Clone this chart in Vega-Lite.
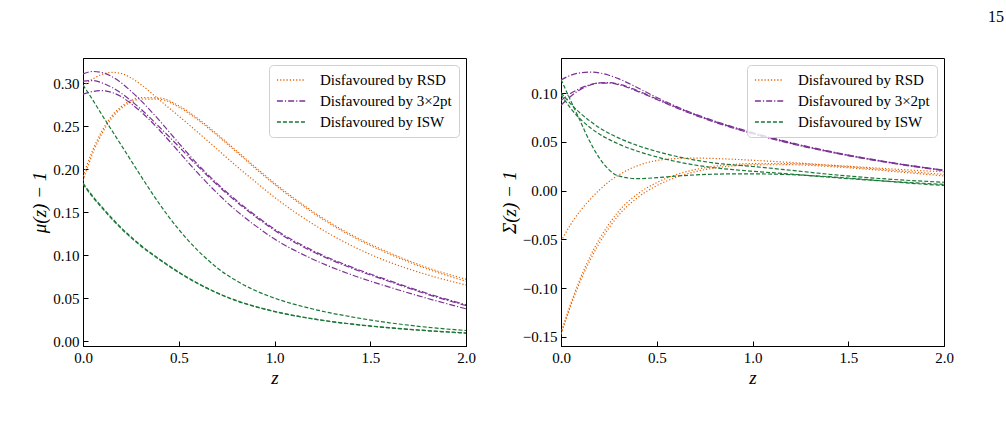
{
  "$schema": "https://vega.github.io/schema/vega-lite/v6.json",
  "background": "white",
  "padding": {"left": 30, "top": 8, "right": 5, "bottom": 5},
  "title": {"text": "15", "anchor": "end", "fontSize": 16, "font": "Liberation Serif", "fontWeight": "normal", "color": "black", "offset": 33, "dx": 50},
  "config": {
    "view": {"stroke": "black", "strokeWidth": 1},
    "font": "Liberation Serif",
    "axis": {
      "grid": false,
      "domainColor": "black", "domainWidth": 1,
      "tickColor": "black", "tickWidth": 1, "tickSize": -5,
      "labelPadding": 9, "labelFlush": false,
      "labelFont": "Liberation Serif", "labelFontSize": 15, "labelColor": "black",
      "titleFont": "Liberation Serif", "titleFontSize": 19, "titleFontWeight": "normal", "titleColor": "black",
      "titlePadding": 3
    },
    "legend": {
      "orient": "top-right", "offset": 7,
      "fillColor": "rgba(255,255,255,0.8)", "strokeColor": "#d0d0d0", "cornerRadius": 4,
      "padding": 7, "symbolType": "M-1,0H3", "symbolSize": 200, "symbolStrokeWidth": 1.3,
      "labelFont": "Liberation Serif", "labelFontSize": 15, "labelColor": "black",
      "labelOffset": 28, "rowPadding": 5
    }
  },
  "datasets": {
    "mu": [
      {"s":"Disfavoured by RSD","c":"a1","z":0,"v":0.192},{"s":"Disfavoured by RSD","c":"a1","z":0.05,"v":0.222},{"s":"Disfavoured by RSD","c":"a1","z":0.1,"v":0.245},{"s":"Disfavoured by RSD","c":"a1","z":0.15,"v":0.262},{"s":"Disfavoured by RSD","c":"a1","z":0.2,"v":0.273},{"s":"Disfavoured by RSD","c":"a1","z":0.25,"v":0.28},{"s":"Disfavoured by RSD","c":"a1","z":0.3,"v":0.2835},{"s":"Disfavoured by RSD","c":"a1","z":0.4,"v":0.283},{"s":"Disfavoured by RSD","c":"a1","z":0.5,"v":0.274},{"s":"Disfavoured by RSD","c":"a1","z":0.6,"v":0.259},{"s":"Disfavoured by RSD","c":"a1","z":0.7,"v":0.241},{"s":"Disfavoured by RSD","c":"a1","z":0.8,"v":0.222},{"s":"Disfavoured by RSD","c":"a1","z":0.9,"v":0.2025},{"s":"Disfavoured by RSD","c":"a1","z":1.0,"v":0.184},{"s":"Disfavoured by RSD","c":"a1","z":1.2,"v":0.151},{"s":"Disfavoured by RSD","c":"a1","z":1.4,"v":0.124},{"s":"Disfavoured by RSD","c":"a1","z":1.6,"v":0.103},{"s":"Disfavoured by RSD","c":"a1","z":1.8,"v":0.0855},{"s":"Disfavoured by RSD","c":"a1","z":2.0,"v":0.0722},
      {"s":"Disfavoured by RSD","c":"a2","z":0,"v":0.187},{"s":"Disfavoured by RSD","c":"a2","z":0.05,"v":0.218},{"s":"Disfavoured by RSD","c":"a2","z":0.1,"v":0.242},{"s":"Disfavoured by RSD","c":"a2","z":0.15,"v":0.2595},{"s":"Disfavoured by RSD","c":"a2","z":0.2,"v":0.271},{"s":"Disfavoured by RSD","c":"a2","z":0.25,"v":0.278},{"s":"Disfavoured by RSD","c":"a2","z":0.3,"v":0.2818},{"s":"Disfavoured by RSD","c":"a2","z":0.4,"v":0.2815},{"s":"Disfavoured by RSD","c":"a2","z":0.5,"v":0.2725},{"s":"Disfavoured by RSD","c":"a2","z":0.6,"v":0.2575},{"s":"Disfavoured by RSD","c":"a2","z":0.7,"v":0.2395},{"s":"Disfavoured by RSD","c":"a2","z":0.8,"v":0.2205},{"s":"Disfavoured by RSD","c":"a2","z":0.9,"v":0.201},{"s":"Disfavoured by RSD","c":"a2","z":1.0,"v":0.1825},{"s":"Disfavoured by RSD","c":"a2","z":1.2,"v":0.1495},{"s":"Disfavoured by RSD","c":"a2","z":1.4,"v":0.1225},{"s":"Disfavoured by RSD","c":"a2","z":1.6,"v":0.1015},{"s":"Disfavoured by RSD","c":"a2","z":1.8,"v":0.084},{"s":"Disfavoured by RSD","c":"a2","z":2.0,"v":0.0698},
      {"s":"Disfavoured by RSD","c":"b","z":0,"v":0.297},{"s":"Disfavoured by RSD","c":"b","z":0.05,"v":0.305},{"s":"Disfavoured by RSD","c":"b","z":0.1,"v":0.3105},{"s":"Disfavoured by RSD","c":"b","z":0.15,"v":0.3128},{"s":"Disfavoured by RSD","c":"b","z":0.2,"v":0.3115},{"s":"Disfavoured by RSD","c":"b","z":0.25,"v":0.3065},{"s":"Disfavoured by RSD","c":"b","z":0.3,"v":0.299},{"s":"Disfavoured by RSD","c":"b","z":0.4,"v":0.2805},{"s":"Disfavoured by RSD","c":"b","z":0.5,"v":0.262},{"s":"Disfavoured by RSD","c":"b","z":0.6,"v":0.243},{"s":"Disfavoured by RSD","c":"b","z":0.7,"v":0.2235},{"s":"Disfavoured by RSD","c":"b","z":0.8,"v":0.204},{"s":"Disfavoured by RSD","c":"b","z":0.9,"v":0.1855},{"s":"Disfavoured by RSD","c":"b","z":1.0,"v":0.1675},{"s":"Disfavoured by RSD","c":"b","z":1.2,"v":0.1365},{"s":"Disfavoured by RSD","c":"b","z":1.4,"v":0.1115},{"s":"Disfavoured by RSD","c":"b","z":1.6,"v":0.092},{"s":"Disfavoured by RSD","c":"b","z":1.8,"v":0.0772},{"s":"Disfavoured by RSD","c":"b","z":2.0,"v":0.0655},
      {"s":"Disfavoured by 3×2pt","c":"p1","z":0,"v":0.311},{"s":"Disfavoured by 3×2pt","c":"p1","z":0.05,"v":0.3138},{"s":"Disfavoured by 3×2pt","c":"p1","z":0.1,"v":0.3125},{"s":"Disfavoured by 3×2pt","c":"p1","z":0.15,"v":0.308},{"s":"Disfavoured by 3×2pt","c":"p1","z":0.2,"v":0.3005},{"s":"Disfavoured by 3×2pt","c":"p1","z":0.25,"v":0.291},{"s":"Disfavoured by 3×2pt","c":"p1","z":0.3,"v":0.2805},{"s":"Disfavoured by 3×2pt","c":"p1","z":0.4,"v":0.2565},{"s":"Disfavoured by 3×2pt","c":"p1","z":0.5,"v":0.2305},{"s":"Disfavoured by 3×2pt","c":"p1","z":0.6,"v":0.2055},{"s":"Disfavoured by 3×2pt","c":"p1","z":0.7,"v":0.1835},{"s":"Disfavoured by 3×2pt","c":"p1","z":0.8,"v":0.164},{"s":"Disfavoured by 3×2pt","c":"p1","z":0.9,"v":0.1465},{"s":"Disfavoured by 3×2pt","c":"p1","z":1.0,"v":0.1305},{"s":"Disfavoured by 3×2pt","c":"p1","z":1.2,"v":0.1055},{"s":"Disfavoured by 3×2pt","c":"p1","z":1.4,"v":0.0865},{"s":"Disfavoured by 3×2pt","c":"p1","z":1.6,"v":0.0705},{"s":"Disfavoured by 3×2pt","c":"p1","z":1.8,"v":0.0555},{"s":"Disfavoured by 3×2pt","c":"p1","z":2.0,"v":0.0425},
      {"s":"Disfavoured by 3×2pt","c":"p2","z":0,"v":0.3025},{"s":"Disfavoured by 3×2pt","c":"p2","z":0.05,"v":0.3032},{"s":"Disfavoured by 3×2pt","c":"p2","z":0.1,"v":0.3005},{"s":"Disfavoured by 3×2pt","c":"p2","z":0.15,"v":0.2955},{"s":"Disfavoured by 3×2pt","c":"p2","z":0.2,"v":0.2885},{"s":"Disfavoured by 3×2pt","c":"p2","z":0.25,"v":0.28},{"s":"Disfavoured by 3×2pt","c":"p2","z":0.3,"v":0.2705},{"s":"Disfavoured by 3×2pt","c":"p2","z":0.4,"v":0.249},{"s":"Disfavoured by 3×2pt","c":"p2","z":0.5,"v":0.2265},{"s":"Disfavoured by 3×2pt","c":"p2","z":0.6,"v":0.2035},{"s":"Disfavoured by 3×2pt","c":"p2","z":0.7,"v":0.182},{"s":"Disfavoured by 3×2pt","c":"p2","z":0.8,"v":0.1625},{"s":"Disfavoured by 3×2pt","c":"p2","z":0.9,"v":0.145},{"s":"Disfavoured by 3×2pt","c":"p2","z":1.0,"v":0.129},{"s":"Disfavoured by 3×2pt","c":"p2","z":1.2,"v":0.1042},{"s":"Disfavoured by 3×2pt","c":"p2","z":1.4,"v":0.0853},{"s":"Disfavoured by 3×2pt","c":"p2","z":1.6,"v":0.0695},{"s":"Disfavoured by 3×2pt","c":"p2","z":1.8,"v":0.0545},{"s":"Disfavoured by 3×2pt","c":"p2","z":2.0,"v":0.0415},
      {"s":"Disfavoured by 3×2pt","c":"p3","z":0,"v":0.2875},{"s":"Disfavoured by 3×2pt","c":"p3","z":0.05,"v":0.2905},{"s":"Disfavoured by 3×2pt","c":"p3","z":0.1,"v":0.2915},{"s":"Disfavoured by 3×2pt","c":"p3","z":0.15,"v":0.2895},{"s":"Disfavoured by 3×2pt","c":"p3","z":0.2,"v":0.2845},{"s":"Disfavoured by 3×2pt","c":"p3","z":0.25,"v":0.2765},{"s":"Disfavoured by 3×2pt","c":"p3","z":0.3,"v":0.2675},{"s":"Disfavoured by 3×2pt","c":"p3","z":0.4,"v":0.2455},{"s":"Disfavoured by 3×2pt","c":"p3","z":0.5,"v":0.2205},{"s":"Disfavoured by 3×2pt","c":"p3","z":0.6,"v":0.1955},{"s":"Disfavoured by 3×2pt","c":"p3","z":0.7,"v":0.1725},{"s":"Disfavoured by 3×2pt","c":"p3","z":0.8,"v":0.152},{"s":"Disfavoured by 3×2pt","c":"p3","z":0.9,"v":0.1345},{"s":"Disfavoured by 3×2pt","c":"p3","z":1.0,"v":0.119},{"s":"Disfavoured by 3×2pt","c":"p3","z":1.2,"v":0.0955},{"s":"Disfavoured by 3×2pt","c":"p3","z":1.4,"v":0.0775},{"s":"Disfavoured by 3×2pt","c":"p3","z":1.6,"v":0.063},{"s":"Disfavoured by 3×2pt","c":"p3","z":1.8,"v":0.0498},{"s":"Disfavoured by 3×2pt","c":"p3","z":2.0,"v":0.0378},
      {"s":"Disfavoured by ISW","c":"g1","z":0,"v":0.298},{"s":"Disfavoured by ISW","c":"g1","z":0.05,"v":0.281},{"s":"Disfavoured by ISW","c":"g1","z":0.1,"v":0.263},{"s":"Disfavoured by ISW","c":"g1","z":0.15,"v":0.2455},{"s":"Disfavoured by ISW","c":"g1","z":0.2,"v":0.228},{"s":"Disfavoured by ISW","c":"g1","z":0.25,"v":0.2105},{"s":"Disfavoured by ISW","c":"g1","z":0.3,"v":0.193},{"s":"Disfavoured by ISW","c":"g1","z":0.4,"v":0.1595},{"s":"Disfavoured by ISW","c":"g1","z":0.5,"v":0.13},{"s":"Disfavoured by ISW","c":"g1","z":0.6,"v":0.1055},{"s":"Disfavoured by ISW","c":"g1","z":0.7,"v":0.0855},{"s":"Disfavoured by ISW","c":"g1","z":0.8,"v":0.0705},{"s":"Disfavoured by ISW","c":"g1","z":0.9,"v":0.059},{"s":"Disfavoured by ISW","c":"g1","z":1.0,"v":0.0502},{"s":"Disfavoured by ISW","c":"g1","z":1.2,"v":0.0375},{"s":"Disfavoured by ISW","c":"g1","z":1.4,"v":0.0285},{"s":"Disfavoured by ISW","c":"g1","z":1.6,"v":0.0215},{"s":"Disfavoured by ISW","c":"g1","z":1.8,"v":0.0163},{"s":"Disfavoured by ISW","c":"g1","z":2.0,"v":0.0125},
      {"s":"Disfavoured by ISW","c":"g2","z":0,"v":0.184},{"s":"Disfavoured by ISW","c":"g2","z":0.05,"v":0.169},{"s":"Disfavoured by ISW","c":"g2","z":0.1,"v":0.156},{"s":"Disfavoured by ISW","c":"g2","z":0.15,"v":0.1435},{"s":"Disfavoured by ISW","c":"g2","z":0.2,"v":0.132},{"s":"Disfavoured by ISW","c":"g2","z":0.25,"v":0.1215},{"s":"Disfavoured by ISW","c":"g2","z":0.3,"v":0.112},{"s":"Disfavoured by ISW","c":"g2","z":0.4,"v":0.0955},{"s":"Disfavoured by ISW","c":"g2","z":0.5,"v":0.0805},{"s":"Disfavoured by ISW","c":"g2","z":0.6,"v":0.0675},{"s":"Disfavoured by ISW","c":"g2","z":0.7,"v":0.0565},{"s":"Disfavoured by ISW","c":"g2","z":0.8,"v":0.0475},{"s":"Disfavoured by ISW","c":"g2","z":0.9,"v":0.0405},{"s":"Disfavoured by ISW","c":"g2","z":1.0,"v":0.0348},{"s":"Disfavoured by ISW","c":"g2","z":1.2,"v":0.0262},{"s":"Disfavoured by ISW","c":"g2","z":1.4,"v":0.0202},{"s":"Disfavoured by ISW","c":"g2","z":1.6,"v":0.0158},{"s":"Disfavoured by ISW","c":"g2","z":1.8,"v":0.0124},{"s":"Disfavoured by ISW","c":"g2","z":2.0,"v":0.0097},
      {"s":"Disfavoured by ISW","c":"g3","z":0,"v":0.1828},{"s":"Disfavoured by ISW","c":"g3","z":0.05,"v":0.1678},{"s":"Disfavoured by ISW","c":"g3","z":0.1,"v":0.1548},{"s":"Disfavoured by ISW","c":"g3","z":0.15,"v":0.1424},{"s":"Disfavoured by ISW","c":"g3","z":0.2,"v":0.131},{"s":"Disfavoured by ISW","c":"g3","z":0.25,"v":0.1206},{"s":"Disfavoured by ISW","c":"g3","z":0.3,"v":0.1112},{"s":"Disfavoured by ISW","c":"g3","z":0.4,"v":0.0948},{"s":"Disfavoured by ISW","c":"g3","z":0.5,"v":0.0799},{"s":"Disfavoured by ISW","c":"g3","z":0.6,"v":0.067},{"s":"Disfavoured by ISW","c":"g3","z":0.7,"v":0.0561},{"s":"Disfavoured by ISW","c":"g3","z":0.8,"v":0.0471},{"s":"Disfavoured by ISW","c":"g3","z":0.9,"v":0.0402},{"s":"Disfavoured by ISW","c":"g3","z":1.0,"v":0.0345},{"s":"Disfavoured by ISW","c":"g3","z":1.2,"v":0.026},{"s":"Disfavoured by ISW","c":"g3","z":1.4,"v":0.02},{"s":"Disfavoured by ISW","c":"g3","z":1.6,"v":0.0156},{"s":"Disfavoured by ISW","c":"g3","z":1.8,"v":0.0122},{"s":"Disfavoured by ISW","c":"g3","z":2.0,"v":0.0095}
    ],
    "sigma": [
      {"s":"Disfavoured by RSD","c":"r1","z":0,"v":-0.052},{"s":"Disfavoured by RSD","c":"r1","z":0.05,"v":-0.035},{"s":"Disfavoured by RSD","c":"r1","z":0.1,"v":-0.021},{"s":"Disfavoured by RSD","c":"r1","z":0.15,"v":-0.0095},{"s":"Disfavoured by RSD","c":"r1","z":0.2,"v":0.0005},{"s":"Disfavoured by RSD","c":"r1","z":0.25,"v":0.009},{"s":"Disfavoured by RSD","c":"r1","z":0.3,"v":0.0158},{"s":"Disfavoured by RSD","c":"r1","z":0.4,"v":0.0255},{"s":"Disfavoured by RSD","c":"r1","z":0.5,"v":0.0308},{"s":"Disfavoured by RSD","c":"r1","z":0.6,"v":0.0328},{"s":"Disfavoured by RSD","c":"r1","z":0.7,"v":0.0333},{"s":"Disfavoured by RSD","c":"r1","z":0.8,"v":0.0329},{"s":"Disfavoured by RSD","c":"r1","z":0.9,"v":0.0321},{"s":"Disfavoured by RSD","c":"r1","z":1.0,"v":0.0311},{"s":"Disfavoured by RSD","c":"r1","z":1.2,"v":0.0288},{"s":"Disfavoured by RSD","c":"r1","z":1.4,"v":0.0262},{"s":"Disfavoured by RSD","c":"r1","z":1.6,"v":0.0237},{"s":"Disfavoured by RSD","c":"r1","z":1.8,"v":0.0213},{"s":"Disfavoured by RSD","c":"r1","z":2.0,"v":0.0192},
      {"s":"Disfavoured by RSD","c":"r2","z":0,"v":-0.1465},{"s":"Disfavoured by RSD","c":"r2","z":0.05,"v":-0.1165},{"s":"Disfavoured by RSD","c":"r2","z":0.1,"v":-0.0905},{"s":"Disfavoured by RSD","c":"r2","z":0.15,"v":-0.0685},{"s":"Disfavoured by RSD","c":"r2","z":0.2,"v":-0.05},{"s":"Disfavoured by RSD","c":"r2","z":0.25,"v":-0.0345},{"s":"Disfavoured by RSD","c":"r2","z":0.3,"v":-0.0215},{"s":"Disfavoured by RSD","c":"r2","z":0.4,"v":-0.0035},{"s":"Disfavoured by RSD","c":"r2","z":0.5,"v":0.0082},{"s":"Disfavoured by RSD","c":"r2","z":0.6,"v":0.0162},{"s":"Disfavoured by RSD","c":"r2","z":0.7,"v":0.0215},{"s":"Disfavoured by RSD","c":"r2","z":0.8,"v":0.0249},{"s":"Disfavoured by RSD","c":"r2","z":0.9,"v":0.0268},{"s":"Disfavoured by RSD","c":"r2","z":1.0,"v":0.0277},{"s":"Disfavoured by RSD","c":"r2","z":1.2,"v":0.0276},{"s":"Disfavoured by RSD","c":"r2","z":1.4,"v":0.0257},{"s":"Disfavoured by RSD","c":"r2","z":1.6,"v":0.0229},{"s":"Disfavoured by RSD","c":"r2","z":1.8,"v":0.0197},{"s":"Disfavoured by RSD","c":"r2","z":2.0,"v":0.0165},
      {"s":"Disfavoured by RSD","c":"r3","z":0,"v":-0.1475},{"s":"Disfavoured by RSD","c":"r3","z":0.05,"v":-0.1185},{"s":"Disfavoured by RSD","c":"r3","z":0.1,"v":-0.0935},{"s":"Disfavoured by RSD","c":"r3","z":0.15,"v":-0.0722},{"s":"Disfavoured by RSD","c":"r3","z":0.2,"v":-0.054},{"s":"Disfavoured by RSD","c":"r3","z":0.25,"v":-0.0385},{"s":"Disfavoured by RSD","c":"r3","z":0.3,"v":-0.0255},{"s":"Disfavoured by RSD","c":"r3","z":0.4,"v":-0.0072},{"s":"Disfavoured by RSD","c":"r3","z":0.5,"v":0.005},{"s":"Disfavoured by RSD","c":"r3","z":0.6,"v":0.0135},{"s":"Disfavoured by RSD","c":"r3","z":0.7,"v":0.0193},{"s":"Disfavoured by RSD","c":"r3","z":0.8,"v":0.0231},{"s":"Disfavoured by RSD","c":"r3","z":0.9,"v":0.0253},{"s":"Disfavoured by RSD","c":"r3","z":1.0,"v":0.0264},{"s":"Disfavoured by RSD","c":"r3","z":1.2,"v":0.0265},{"s":"Disfavoured by RSD","c":"r3","z":1.4,"v":0.0247},{"s":"Disfavoured by RSD","c":"r3","z":1.6,"v":0.0219},{"s":"Disfavoured by RSD","c":"r3","z":1.8,"v":0.0185},{"s":"Disfavoured by RSD","c":"r3","z":2.0,"v":0.015},
      {"s":"Disfavoured by 3×2pt","c":"q1","z":0,"v":0.1135},{"s":"Disfavoured by 3×2pt","c":"q1","z":0.05,"v":0.1182},{"s":"Disfavoured by 3×2pt","c":"q1","z":0.1,"v":0.1208},{"s":"Disfavoured by 3×2pt","c":"q1","z":0.15,"v":0.1216},{"s":"Disfavoured by 3×2pt","c":"q1","z":0.2,"v":0.1207},{"s":"Disfavoured by 3×2pt","c":"q1","z":0.25,"v":0.1183},{"s":"Disfavoured by 3×2pt","c":"q1","z":0.3,"v":0.1148},{"s":"Disfavoured by 3×2pt","c":"q1","z":0.4,"v":0.1055},{"s":"Disfavoured by 3×2pt","c":"q1","z":0.5,"v":0.0955},{"s":"Disfavoured by 3×2pt","c":"q1","z":0.6,"v":0.0865},{"s":"Disfavoured by 3×2pt","c":"q1","z":0.7,"v":0.0785},{"s":"Disfavoured by 3×2pt","c":"q1","z":0.8,"v":0.0715},{"s":"Disfavoured by 3×2pt","c":"q1","z":0.9,"v":0.0652},{"s":"Disfavoured by 3×2pt","c":"q1","z":1.0,"v":0.0595},{"s":"Disfavoured by 3×2pt","c":"q1","z":1.2,"v":0.0492},{"s":"Disfavoured by 3×2pt","c":"q1","z":1.4,"v":0.0404},{"s":"Disfavoured by 3×2pt","c":"q1","z":1.6,"v":0.0329},{"s":"Disfavoured by 3×2pt","c":"q1","z":1.8,"v":0.0265},{"s":"Disfavoured by 3×2pt","c":"q1","z":2.0,"v":0.021},
      {"s":"Disfavoured by 3×2pt","c":"q2","z":0,"v":0.0875},{"s":"Disfavoured by 3×2pt","c":"q2","z":0.05,"v":0.0965},{"s":"Disfavoured by 3×2pt","c":"q2","z":0.1,"v":0.1035},{"s":"Disfavoured by 3×2pt","c":"q2","z":0.15,"v":0.108},{"s":"Disfavoured by 3×2pt","c":"q2","z":0.2,"v":0.1105},{"s":"Disfavoured by 3×2pt","c":"q2","z":0.25,"v":0.1108},{"s":"Disfavoured by 3×2pt","c":"q2","z":0.3,"v":0.1093},{"s":"Disfavoured by 3×2pt","c":"q2","z":0.4,"v":0.1025},{"s":"Disfavoured by 3×2pt","c":"q2","z":0.5,"v":0.094},{"s":"Disfavoured by 3×2pt","c":"q2","z":0.6,"v":0.0857},{"s":"Disfavoured by 3×2pt","c":"q2","z":0.7,"v":0.0779},{"s":"Disfavoured by 3×2pt","c":"q2","z":0.8,"v":0.0709},{"s":"Disfavoured by 3×2pt","c":"q2","z":0.9,"v":0.0646},{"s":"Disfavoured by 3×2pt","c":"q2","z":1.0,"v":0.0589},{"s":"Disfavoured by 3×2pt","c":"q2","z":1.2,"v":0.0487},{"s":"Disfavoured by 3×2pt","c":"q2","z":1.4,"v":0.04},{"s":"Disfavoured by 3×2pt","c":"q2","z":1.6,"v":0.0326},{"s":"Disfavoured by 3×2pt","c":"q2","z":1.8,"v":0.0262},{"s":"Disfavoured by 3×2pt","c":"q2","z":2.0,"v":0.0207},
      {"s":"Disfavoured by 3×2pt","c":"q3","z":0,"v":0.0925},{"s":"Disfavoured by 3×2pt","c":"q3","z":0.05,"v":0.0995},{"s":"Disfavoured by 3×2pt","c":"q3","z":0.1,"v":0.1048},{"s":"Disfavoured by 3×2pt","c":"q3","z":0.15,"v":0.1085},{"s":"Disfavoured by 3×2pt","c":"q3","z":0.2,"v":0.1103},{"s":"Disfavoured by 3×2pt","c":"q3","z":0.25,"v":0.1103},{"s":"Disfavoured by 3×2pt","c":"q3","z":0.3,"v":0.1087},{"s":"Disfavoured by 3×2pt","c":"q3","z":0.4,"v":0.1018},{"s":"Disfavoured by 3×2pt","c":"q3","z":0.5,"v":0.0934},{"s":"Disfavoured by 3×2pt","c":"q3","z":0.6,"v":0.0851},{"s":"Disfavoured by 3×2pt","c":"q3","z":0.7,"v":0.0773},{"s":"Disfavoured by 3×2pt","c":"q3","z":0.8,"v":0.0703},{"s":"Disfavoured by 3×2pt","c":"q3","z":0.9,"v":0.064},{"s":"Disfavoured by 3×2pt","c":"q3","z":1.0,"v":0.0583},{"s":"Disfavoured by 3×2pt","c":"q3","z":1.2,"v":0.0482},{"s":"Disfavoured by 3×2pt","c":"q3","z":1.4,"v":0.0396},{"s":"Disfavoured by 3×2pt","c":"q3","z":1.6,"v":0.0322},{"s":"Disfavoured by 3×2pt","c":"q3","z":1.8,"v":0.0258},{"s":"Disfavoured by 3×2pt","c":"q3","z":2.0,"v":0.0203},
      {"s":"Disfavoured by ISW","c":"h1","z":0,"v":0.114},{"s":"Disfavoured by ISW","c":"h1","z":0.05,"v":0.0925},{"s":"Disfavoured by ISW","c":"h1","z":0.1,"v":0.0715},{"s":"Disfavoured by ISW","c":"h1","z":0.15,"v":0.0505},{"s":"Disfavoured by ISW","c":"h1","z":0.2,"v":0.0335},{"s":"Disfavoured by ISW","c":"h1","z":0.25,"v":0.0215},{"s":"Disfavoured by ISW","c":"h1","z":0.3,"v":0.015},{"s":"Disfavoured by ISW","c":"h1","z":0.4,"v":0.0122},{"s":"Disfavoured by ISW","c":"h1","z":0.5,"v":0.0132},{"s":"Disfavoured by ISW","c":"h1","z":0.6,"v":0.0148},{"s":"Disfavoured by ISW","c":"h1","z":0.7,"v":0.016},{"s":"Disfavoured by ISW","c":"h1","z":0.8,"v":0.0168},{"s":"Disfavoured by ISW","c":"h1","z":0.9,"v":0.0171},{"s":"Disfavoured by ISW","c":"h1","z":1.0,"v":0.0171},{"s":"Disfavoured by ISW","c":"h1","z":1.2,"v":0.0163},{"s":"Disfavoured by ISW","c":"h1","z":1.4,"v":0.0142},{"s":"Disfavoured by ISW","c":"h1","z":1.6,"v":0.0112},{"s":"Disfavoured by ISW","c":"h1","z":1.8,"v":0.0079},{"s":"Disfavoured by ISW","c":"h1","z":2.0,"v":0.0052},
      {"s":"Disfavoured by ISW","c":"h2","z":0,"v":0.1005},{"s":"Disfavoured by ISW","c":"h2","z":0.05,"v":0.089},{"s":"Disfavoured by ISW","c":"h2","z":0.1,"v":0.0795},{"s":"Disfavoured by ISW","c":"h2","z":0.15,"v":0.0715},{"s":"Disfavoured by ISW","c":"h2","z":0.2,"v":0.0645},{"s":"Disfavoured by ISW","c":"h2","z":0.25,"v":0.0588},{"s":"Disfavoured by ISW","c":"h2","z":0.3,"v":0.054},{"s":"Disfavoured by ISW","c":"h2","z":0.4,"v":0.0462},{"s":"Disfavoured by ISW","c":"h2","z":0.5,"v":0.0401},{"s":"Disfavoured by ISW","c":"h2","z":0.6,"v":0.0352},{"s":"Disfavoured by ISW","c":"h2","z":0.7,"v":0.0313},{"s":"Disfavoured by ISW","c":"h2","z":0.8,"v":0.0283},{"s":"Disfavoured by ISW","c":"h2","z":0.9,"v":0.0263},{"s":"Disfavoured by ISW","c":"h2","z":1.0,"v":0.0247},{"s":"Disfavoured by ISW","c":"h2","z":1.2,"v":0.0208},{"s":"Disfavoured by ISW","c":"h2","z":1.4,"v":0.0167},{"s":"Disfavoured by ISW","c":"h2","z":1.6,"v":0.0133},{"s":"Disfavoured by ISW","c":"h2","z":1.8,"v":0.0106},{"s":"Disfavoured by ISW","c":"h2","z":2.0,"v":0.0085},
      {"s":"Disfavoured by ISW","c":"h3","z":0,"v":0.0985},{"s":"Disfavoured by ISW","c":"h3","z":0.05,"v":0.0845},{"s":"Disfavoured by ISW","c":"h3","z":0.1,"v":0.0735},{"s":"Disfavoured by ISW","c":"h3","z":0.15,"v":0.065},{"s":"Disfavoured by ISW","c":"h3","z":0.2,"v":0.058},{"s":"Disfavoured by ISW","c":"h3","z":0.25,"v":0.0525},{"s":"Disfavoured by ISW","c":"h3","z":0.3,"v":0.0478},{"s":"Disfavoured by ISW","c":"h3","z":0.4,"v":0.0403},{"s":"Disfavoured by ISW","c":"h3","z":0.5,"v":0.0345},{"s":"Disfavoured by ISW","c":"h3","z":0.6,"v":0.0298},{"s":"Disfavoured by ISW","c":"h3","z":0.7,"v":0.0262},{"s":"Disfavoured by ISW","c":"h3","z":0.8,"v":0.0234},{"s":"Disfavoured by ISW","c":"h3","z":0.9,"v":0.0214},{"s":"Disfavoured by ISW","c":"h3","z":1.0,"v":0.0198},{"s":"Disfavoured by ISW","c":"h3","z":1.2,"v":0.0169},{"s":"Disfavoured by ISW","c":"h3","z":1.4,"v":0.0137},{"s":"Disfavoured by ISW","c":"h3","z":1.6,"v":0.0109},{"s":"Disfavoured by ISW","c":"h3","z":1.8,"v":0.0084},{"s":"Disfavoured by ISW","c":"h3","z":2.0,"v":0.0063}
    ]
  },
  "bounds": "flush",
  "spacing": 95,
  "resolve": {
    "scale": {"color": "independent", "strokeDash": "independent"},
    "legend": {"color": "independent", "strokeDash": "independent"}
  },
  "hconcat": [
    {
      "width": 383, "height": 288,
      "data": {"name": "mu"},
      "mark": {"type": "line", "interpolate": "monotone", "strokeWidth": 1.2, "clip": true},
      "encoding": {
        "x": {"field": "z", "type": "quantitative", "scale": {"domain": [0, 2], "nice": false, "zero": false},
              "axis": {"title": "z", "titleFontStyle": "italic", "labelFont": "Liberation Serif", "values": [0, 0.5, 1, 1.5, 2], "format": ".1f"}},
        "y": {"field": "v", "type": "quantitative", "scale": {"domain": [-0.0055, 0.3295], "nice": false, "zero": false},
              "axis": {"title": "μ(z) − 1", "titleFontStyle": "italic", "labelFont": "Liberation Serif", "values": [0, 0.05, 0.1, 0.15, 0.2, 0.25, 0.3], "format": ".2f"}},
        "color": {"field": "s", "type": "nominal",
                  "scale": {"domain": ["Disfavoured by RSD", "Disfavoured by 3×2pt", "Disfavoured by ISW"], "range": ["#e66101", "#7b3294", "#1b7837"]},
                  "legend": {"title": null}},
        "strokeDash": {"field": "s", "type": "nominal",
                  "scale": {"domain": ["Disfavoured by RSD", "Disfavoured by 3×2pt", "Disfavoured by ISW"], "range": [[1.2, 2], [6, 2, 1.2, 2], [4, 2]]},
                  "legend": {"title": null}},
        "detail": {"field": "c", "type": "nominal"}
      }
    },
    {
      "width": 383, "height": 288,
      "data": {"name": "sigma"},
      "mark": {"type": "line", "interpolate": "monotone", "strokeWidth": 1.2, "clip": true},
      "encoding": {
        "x": {"field": "z", "type": "quantitative", "scale": {"domain": [0, 2], "nice": false, "zero": false},
              "axis": {"title": "z", "titleFontStyle": "italic", "labelFont": "Liberation Serif", "values": [0, 0.5, 1, 1.5, 2], "format": ".1f"}},
        "y": {"field": "v", "type": "quantitative", "scale": {"domain": [-0.1595, 0.136], "nice": false, "zero": false},
              "axis": {"title": "Σ(z) − 1", "titleFontStyle": "italic", "labelFont": "Liberation Serif", "values": [-0.15, -0.1, -0.05, 0, 0.05, 0.1], "format": ".2f"}},
        "color": {"field": "s", "type": "nominal",
                  "scale": {"domain": ["Disfavoured by RSD", "Disfavoured by 3×2pt", "Disfavoured by ISW"], "range": ["#e66101", "#7b3294", "#1b7837"]},
                  "legend": {"title": null}},
        "strokeDash": {"field": "s", "type": "nominal",
                  "scale": {"domain": ["Disfavoured by RSD", "Disfavoured by 3×2pt", "Disfavoured by ISW"], "range": [[1.2, 2], [6, 2, 1.2, 2], [4, 2]]},
                  "legend": {"title": null}},
        "detail": {"field": "c", "type": "nominal"}
      }
    }
  ]
}
